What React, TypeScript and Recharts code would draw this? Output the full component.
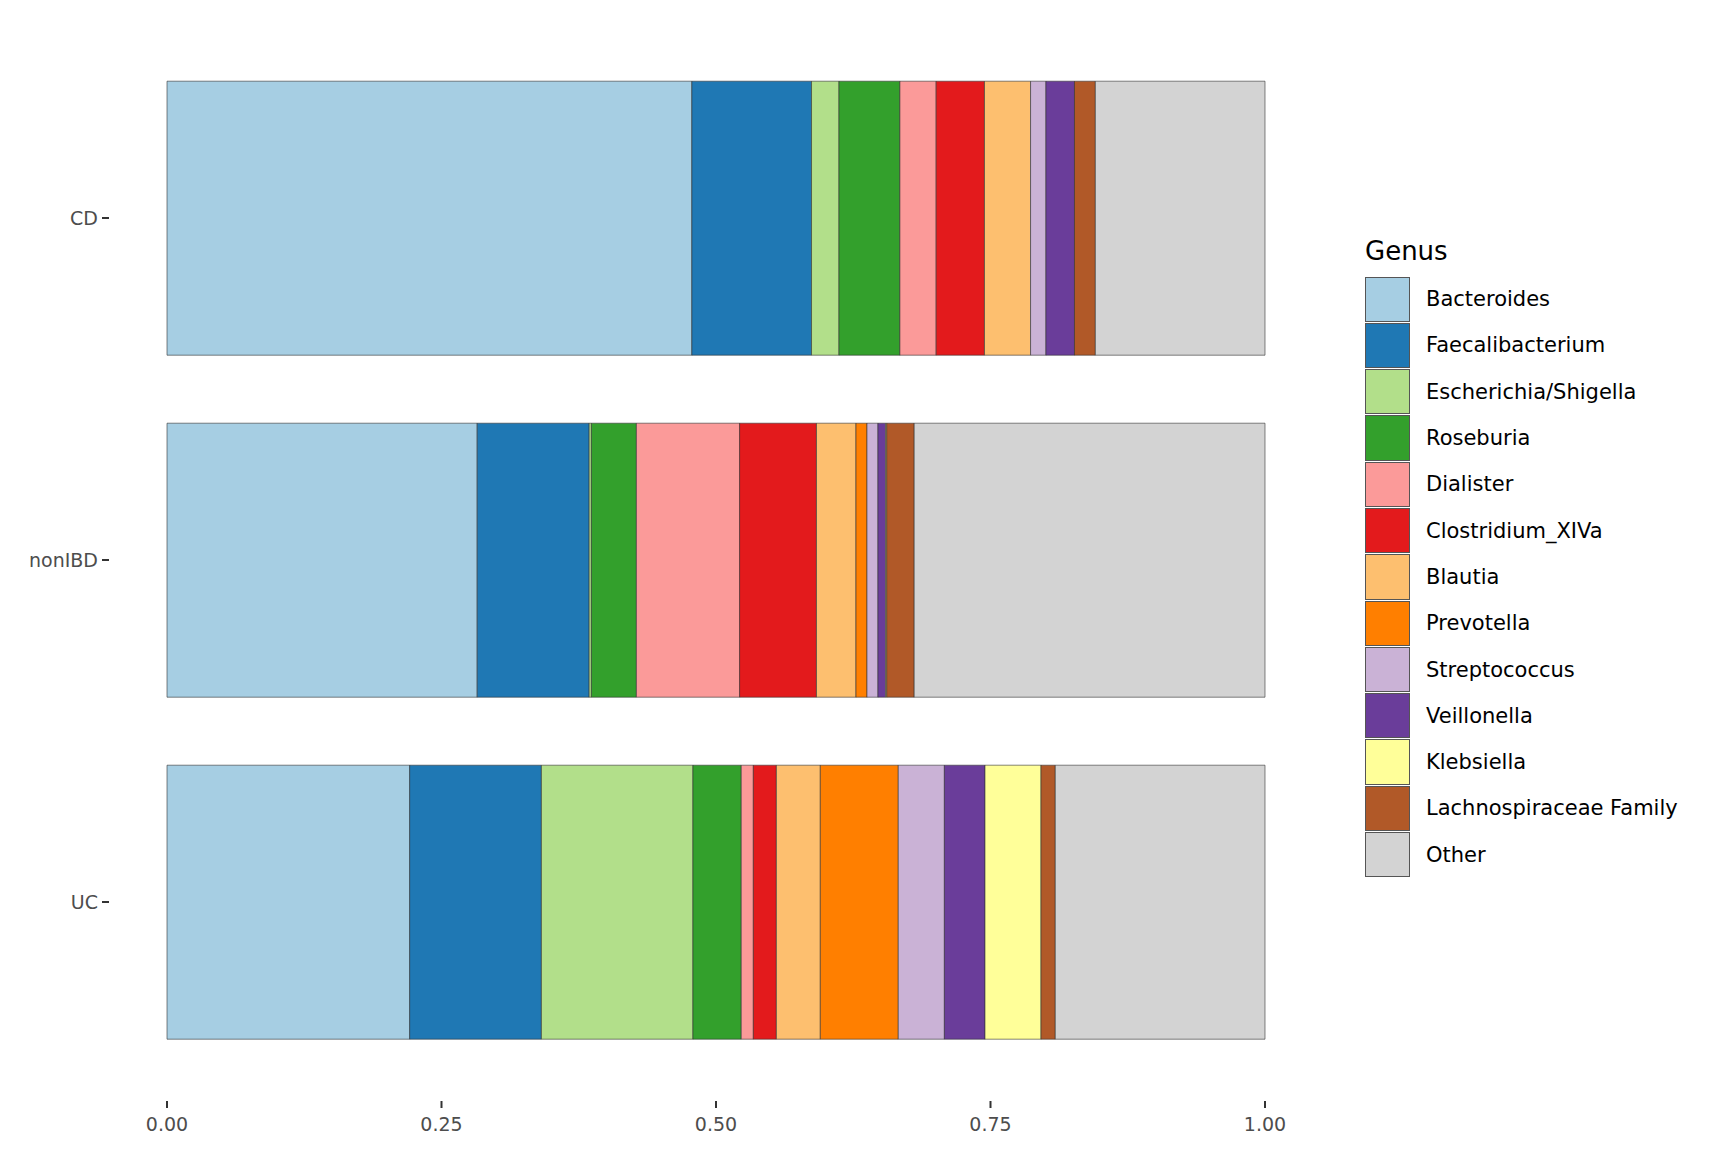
import React from "react";
import { BarChart, Bar, XAxis, YAxis, Legend } from "recharts";

const groups = ["CD", "nonIBD", "UC"];
const genera = ["Bacteroides","Faecalibacterium","Escherichia/Shigella","Roseburia","Dialister","Clostridium_XIVa","Blautia","Prevotella","Streptococcus","Veillonella","Klebsiella","Lachnospiraceae Family","Other"];
const colors = ["#A6CEE3","#1F78B4","#B2DF8A","#33A02C","#FB9A99","#E31A1C","#FDBF6F","#FF7F00","#CAB2D6","#6A3D9A","#FFFF99","#B15928","#D3D3D3"];
const cdValues = [0.478,0.109,0.025,0.0555,0.033,0.044,0.042,0,0.014,0.026,0,0.019,0.1545];
const nonIBDValues = [0.2825,0.102,0.002,0.041,0.094,0.070,0.036,0.010,0.010,0.007,0.001,0.025,0.3195];
const ucValues = [0.221,0.120,0.138,0.044,0.011,0.021,0.040,0.071,0.042,0.037,0.051,0.013,0.191];
const xTicks = [0, 0.25, 0.5, 0.75, 1];

const allValues = [cdValues, nonIBDValues, ucValues];
const data = groups.map((g, i) => {
  const row: any = { group: g };
  genera.forEach((n, j) => (row[n] = allValues[i][j]));
  return row;
});

const FONT = "DejaVu Sans, sans-serif";

const XTick = (p: any) => (
  <g>
    <line x1={p.x} x2={p.x} y1={p.y + 20} y2={p.y + 27} stroke="#333" strokeWidth={2} />
    <text x={p.x} y={p.y + 50} textAnchor="middle" fill="#4d4d4d" fontSize={19} fontFamily={FONT}>
      {p.payload.value.toFixed(2)}
    </text>
  </g>
);

const YTick = (p: any) => (
  <g>
    <line x1={p.x - 57} x2={p.x - 50} y1={p.y} y2={p.y} stroke="#333" strokeWidth={2} />
    <text x={p.x - 61} y={p.y} dy={7} textAnchor="end" fill="#4d4d4d" fontSize={19} fontFamily={FONT}>
      {p.payload.value}
    </text>
  </g>
);

const LegendContent = () => (
  <div style={{ fontFamily: FONT }}>
    <div style={{ fontSize: 26, color: "#000", marginBottom: 10, height: 30 }}>Genus</div>
    {genera.map((n, i) => (
      <div key={n} style={{ display: "flex", alignItems: "center", height: 46.3 }}>
        <div style={{ width: 45, height: 45.3, background: colors[i], border: "0.5px solid #555", boxSizing: "border-box" }} />
        <span style={{ marginLeft: 16, fontSize: 21, color: "#000" }}>{n}</span>
      </div>
    ))}
  </div>
);

export default function App() {
  return (
    <div style={{ position: "absolute", left: 0, top: 0, width: 1728, height: 1152, background: "#fff" }}>
      <BarChart
        width={1728}
        height={1152}
        data={data}
        layout="vertical"
        margin={{ top: 47, right: 103, bottom: 0, left: 0 }}
        barCategoryGap="10%"
      >
        <XAxis type="number" domain={[0, 1]} ticks={xTicks} axisLine={false} tickLine={false} tick={<XTick />} height={79} />
        <YAxis type="category" dataKey="group" axisLine={false} tickLine={false} tick={<YTick />} width={167} />
        <Legend
          layout="vertical"
          align="right"
          verticalAlign="top"
          content={<LegendContent />}
          wrapperStyle={{ left: 1365, top: 236, width: 360 }}
        />
        {genera.map((n, i) => (
          <Bar key={n} dataKey={n} stackId="a" fill={colors[i]} stroke="#333" strokeWidth={0.6} isAnimationActive={false} />
        ))}
      </BarChart>
    </div>
  );
}
